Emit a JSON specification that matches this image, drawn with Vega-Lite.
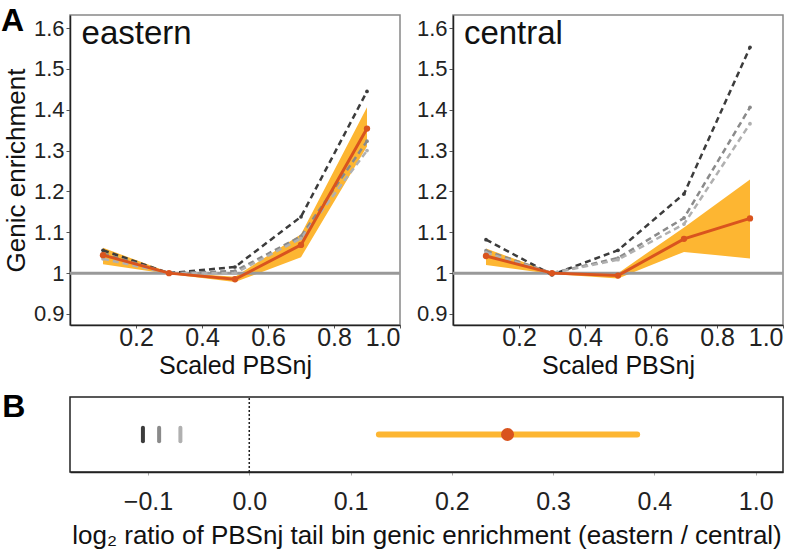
{
  "$schema": "https://vega.github.io/schema/vega-lite/v6.json",
  "background": "white",
  "padding": {"left": 0, "top": 4, "right": 0, "bottom": 0},
  "config": {
    "font": "Liberation Sans",
    "view": {"stroke": "#888888", "strokeWidth": 1.5},
    "axis": {
      "grid": false,
      "labelFont": "Liberation Sans",
      "titleFont": "Liberation Sans",
      "titleFontWeight": "normal",
      "labelColor": "#222222",
      "titleColor": "#111111",
      "domainColor": "#222222",
      "domainWidth": 1.5,
      "tickColor": "#555555",
      "tickSize": 4
    }
  },
  "datasets": {
    "enrich": [
      {"region": "eastern", "series": "s1", "x": 0.1, "y": 1.056},
      {"region": "eastern", "series": "s1", "x": 0.3, "y": 1.0},
      {"region": "eastern", "series": "s1", "x": 0.5, "y": 1.015},
      {"region": "eastern", "series": "s1", "x": 0.7, "y": 1.138},
      {"region": "eastern", "series": "s1", "x": 0.9, "y": 1.445},
      {"region": "eastern", "series": "s2", "x": 0.1, "y": 1.048},
      {"region": "eastern", "series": "s2", "x": 0.3, "y": 1.0},
      {"region": "eastern", "series": "s2", "x": 0.5, "y": 1.005},
      {"region": "eastern", "series": "s2", "x": 0.7, "y": 1.09},
      {"region": "eastern", "series": "s2", "x": 0.9, "y": 1.323},
      {"region": "eastern", "series": "s3", "x": 0.1, "y": 1.035},
      {"region": "eastern", "series": "s3", "x": 0.3, "y": 1.0},
      {"region": "eastern", "series": "s3", "x": 0.5, "y": 1.0},
      {"region": "eastern", "series": "s3", "x": 0.7, "y": 1.085},
      {"region": "eastern", "series": "s3", "x": 0.9, "y": 1.3},
      {"region": "eastern", "series": "obs", "x": 0.1, "y": 1.044, "lo": 1.022, "hi": 1.062},
      {"region": "eastern", "series": "obs", "x": 0.3, "y": 1.0, "lo": 0.998, "hi": 1.002},
      {"region": "eastern", "series": "obs", "x": 0.5, "y": 0.985, "lo": 0.978, "hi": 0.991},
      {"region": "eastern", "series": "obs", "x": 0.7, "y": 1.069, "lo": 1.039, "hi": 1.095},
      {"region": "eastern", "series": "obs", "x": 0.9, "y": 1.354, "lo": 1.31, "hi": 1.406},
      {"region": "central", "series": "s1", "x": 0.1, "y": 1.082},
      {"region": "central", "series": "s1", "x": 0.3, "y": 0.996},
      {"region": "central", "series": "s1", "x": 0.5, "y": 1.056},
      {"region": "central", "series": "s1", "x": 0.7, "y": 1.194},
      {"region": "central", "series": "s1", "x": 0.9, "y": 1.553},
      {"region": "central", "series": "s2", "x": 0.1, "y": 1.055},
      {"region": "central", "series": "s2", "x": 0.3, "y": 1.0},
      {"region": "central", "series": "s2", "x": 0.5, "y": 1.037},
      {"region": "central", "series": "s2", "x": 0.7, "y": 1.135},
      {"region": "central", "series": "s2", "x": 0.9, "y": 1.406},
      {"region": "central", "series": "s3", "x": 0.1, "y": 1.05},
      {"region": "central", "series": "s3", "x": 0.3, "y": 1.0},
      {"region": "central", "series": "s3", "x": 0.5, "y": 1.033},
      {"region": "central", "series": "s3", "x": 0.7, "y": 1.12},
      {"region": "central", "series": "s3", "x": 0.9, "y": 1.366},
      {"region": "central", "series": "obs", "x": 0.1, "y": 1.042, "lo": 1.02, "hi": 1.06},
      {"region": "central", "series": "obs", "x": 0.3, "y": 1.0, "lo": 0.998, "hi": 1.002},
      {"region": "central", "series": "obs", "x": 0.5, "y": 0.994, "lo": 0.987, "hi": 1.0},
      {"region": "central", "series": "obs", "x": 0.7, "y": 1.084, "lo": 1.052, "hi": 1.112},
      {"region": "central", "series": "obs", "x": 0.9, "y": 1.134, "lo": 1.036, "hi": 1.229}
    ],
    "ratio": [
      {"kind": "null", "series": "s1", "value": -0.105},
      {"kind": "null", "series": "s2", "value": -0.089},
      {"kind": "null", "series": "s3", "value": -0.068},
      {"kind": "obs", "series": "obs", "value": 0.255, "lo": 0.128, "hi": 0.383}
    ]
  },
  "vconcat": [
    {
      "hconcat": [
        {
          "width": 330,
          "height": 310,
          "layer": [
            {
              "data": {"name": "enrich"},
              "transform": [{"filter": "datum.region == 'eastern' && datum.series == 'obs'"}],
              "mark": {"type": "area", "color": "#FDB632", "opacity": 1},
              "encoding": {
                "x": {"field": "x", "type": "quantitative", "scale": {"domain": [0, 1], "nice": false}, "axis": {"title": "Scaled PBSnj", "values": [0.2, 0.4, 0.6, 0.8, 1.0], "format": ".1f", "labelFontSize": 25, "titleFontSize": 25, "tickSize": 3, "labelPadding": -3, "titlePadding": 3}},
                "y": {"field": "lo", "type": "quantitative", "scale": {"domain": [0.873, 1.632], "nice": false, "zero": false}, "axis": {"title": "Genic enrichment", "values": [0.9, 1.0, 1.1, 1.2, 1.3, 1.4, 1.5, 1.6], "labelExpr": "datum.value == 1 ? '1' : format(datum.value, '.1f')", "labelFontSize": 22, "titleFontSize": 26, "labelPadding": 2, "titlePadding": 4}},
                "y2": {"field": "hi"}
              }
            },
            {
              "data": {"values": [{"ref": 1}]},
              "mark": {"type": "rule", "color": "#999999", "strokeWidth": 3},
              "encoding": {"y": {"field": "ref", "type": "quantitative"}}
            },
            {
              "data": {"name": "enrich"},
              "transform": [{"filter": "datum.region == 'eastern' && datum.series != 'obs'"}],
              "mark": {"type": "line", "strokeDash": [6, 4], "strokeWidth": 2.5, "point": {"filled": true, "size": 14}},
              "encoding": {
                "x": {"field": "x", "type": "quantitative"},
                "y": {"field": "y", "type": "quantitative"},
                "color": {"field": "series", "type": "nominal", "scale": {"domain": ["s1", "s2", "s3"], "range": ["#3c3c3c", "#8a8a8a", "#b0b0b0"]}, "legend": null}
              }
            },
            {
              "data": {"name": "enrich"},
              "transform": [{"filter": "datum.region == 'eastern' && datum.series == 'obs'"}],
              "mark": {"type": "line", "color": "#D9541E", "strokeWidth": 3, "point": {"filled": true, "size": 40, "color": "#D9541E"}},
              "encoding": {
                "x": {"field": "x", "type": "quantitative"},
                "y": {"field": "y", "type": "quantitative"}
              }
            },
            {
              "data": {"values": [{"label": "eastern"}]},
              "mark": {"type": "text", "fontSize": 33, "align": "left", "baseline": "alphabetic", "color": "#111111"},
              "encoding": {"text": {"field": "label"}, "x": {"datum": 0.035, "type": "quantitative"}, "y": {"datum": 1.561, "type": "quantitative"}}
            },
            {
              "data": {"values": [{"label": "A"}]},
              "mark": {"type": "text", "fontSize": 32, "fontWeight": "bold", "align": "left", "baseline": "alphabetic", "color": "#000000"},
              "encoding": {"text": {"field": "label"}, "x": {"datum": -0.209, "type": "quantitative"}, "y": {"datum": 1.592, "type": "quantitative"}}
            }
          ]
        },
        {
          "width": 330,
          "height": 310,
          "layer": [
            {
              "data": {"name": "enrich"},
              "transform": [{"filter": "datum.region == 'central' && datum.series == 'obs'"}],
              "mark": {"type": "area", "color": "#FDB632", "opacity": 1},
              "encoding": {
                "x": {"field": "x", "type": "quantitative", "scale": {"domain": [0, 1], "nice": false}, "axis": {"title": "Scaled PBSnj", "values": [0.2, 0.4, 0.6, 0.8, 1.0], "format": ".1f", "labelFontSize": 25, "titleFontSize": 25, "tickSize": 3, "labelPadding": -3, "titlePadding": 3}},
                "y": {"field": "lo", "type": "quantitative", "scale": {"domain": [0.873, 1.632], "nice": false, "zero": false}, "axis": {"title": null, "values": [0.9, 1.0, 1.1, 1.2, 1.3, 1.4, 1.5, 1.6], "labelExpr": "datum.value == 1 ? '1' : format(datum.value, '.1f')", "labelFontSize": 22, "labelPadding": 2}},
                "y2": {"field": "hi"}
              }
            },
            {
              "data": {"values": [{"ref": 1}]},
              "mark": {"type": "rule", "color": "#999999", "strokeWidth": 3},
              "encoding": {"y": {"field": "ref", "type": "quantitative"}}
            },
            {
              "data": {"name": "enrich"},
              "transform": [{"filter": "datum.region == 'central' && datum.series != 'obs'"}],
              "mark": {"type": "line", "strokeDash": [6, 4], "strokeWidth": 2.5, "point": {"filled": true, "size": 14}},
              "encoding": {
                "x": {"field": "x", "type": "quantitative"},
                "y": {"field": "y", "type": "quantitative"},
                "color": {"field": "series", "type": "nominal", "scale": {"domain": ["s1", "s2", "s3"], "range": ["#3c3c3c", "#8a8a8a", "#b0b0b0"]}, "legend": null}
              }
            },
            {
              "data": {"name": "enrich"},
              "transform": [{"filter": "datum.region == 'central' && datum.series == 'obs'"}],
              "mark": {"type": "line", "color": "#D9541E", "strokeWidth": 3, "point": {"filled": true, "size": 40, "color": "#D9541E"}},
              "encoding": {
                "x": {"field": "x", "type": "quantitative"},
                "y": {"field": "y", "type": "quantitative"}
              }
            },
            {
              "data": {"values": [{"label": "central"}]},
              "mark": {"type": "text", "fontSize": 33, "align": "left", "baseline": "alphabetic", "color": "#111111"},
              "encoding": {"text": {"field": "label"}, "x": {"datum": 0.033, "type": "quantitative"}, "y": {"datum": 1.561, "type": "quantitative"}}
            }
          ]
        }
      ],
      "spacing": 53,
      "bounds": "flush"
    },
    {
      "width": 713,
      "height": 75,
      "view": {"stroke": "#222222", "strokeWidth": 1.5},
      "layer": [
        {
          "data": {"values": [{"ref": 0}]},
          "mark": {"type": "rule", "color": "#222222", "strokeWidth": 1.5, "strokeDash": [2, 2]},
          "encoding": {
            "x": {"field": "ref", "type": "quantitative", "scale": {"domain": [-0.177, 0.527], "nice": false, "zero": false}, "axis": {"title": "log₂ ratio of PBSnj tail bin genic enrichment (eastern / central)", "values": [-0.1, 0, 0.1, 0.2, 0.3, 0.4, 0.5], "labelExpr": "datum.value == 0.5 ? '1.0' : format(datum.value, '.1f')", "labelFontSize": 25, "titleFontSize": 26, "tickSize": 3, "tickColor": "#aaaaaa", "labelPadding": 14, "titlePadding": 8}},
            "y": {"datum": 0, "type": "quantitative", "scale": {"domain": [0, 1], "nice": false}, "axis": null},
            "y2": {"datum": 1}
          }
        },
        {
          "data": {"name": "ratio"},
          "transform": [{"filter": "datum.kind == 'null'"}],
          "mark": {"type": "rule", "strokeWidth": 4, "strokeCap": "round"},
          "encoding": {
            "x": {"field": "value", "type": "quantitative"},
            "y": {"datum": 0.41},
            "y2": {"datum": 0.59},
            "color": {"field": "series", "type": "nominal", "scale": {"domain": ["s1", "s2", "s3"], "range": ["#3c3c3c", "#8a8a8a", "#b0b0b0"]}, "legend": null}
          }
        },
        {
          "data": {"name": "ratio"},
          "transform": [{"filter": "datum.kind == 'obs'"}],
          "mark": {"type": "rule", "strokeWidth": 6, "strokeCap": "round", "color": "#FDB632"},
          "encoding": {
            "x": {"field": "lo", "type": "quantitative"},
            "x2": {"field": "hi"},
            "y": {"datum": 0.5}
          }
        },
        {
          "data": {"name": "ratio"},
          "transform": [{"filter": "datum.kind == 'obs'"}],
          "mark": {"type": "point", "filled": true, "size": 170, "opacity": 1, "color": "#D9541E"},
          "encoding": {
            "x": {"field": "value", "type": "quantitative"},
            "y": {"datum": 0.5}
          }
        },
        {
          "data": {"values": [{"label": "B"}]},
          "mark": {"type": "text", "fontSize": 32, "fontWeight": "bold", "align": "left", "baseline": "alphabetic", "color": "#000000"},
          "encoding": {"text": {"field": "label"}, "x": {"datum": -0.244}, "y": {"datum": 0.733}}
        }
      ]
    }
  ],
  "spacing": 11
}
